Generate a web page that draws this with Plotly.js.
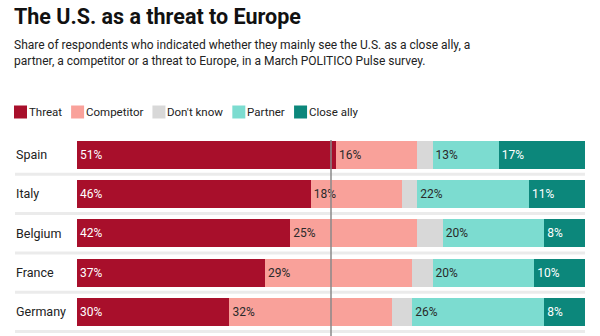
<!DOCTYPE html>
<html>
<head>
<meta charset="utf-8">
<script src="https://cdn.plot.ly/plotly-3.0.1.min.js"></script>
<style>html,body{margin:0;padding:0;background:#fff;}#chart{width:600px;height:336px;}</style>
</head>
<body>
<div id="chart"></div>
<script>
const countries = ["Spain", "Italy", "Belgium", "France", "Germany"];
const seriesNames = ["Threat", "Competitor", "Don't know", "Partner", "Close ally"];
const threat = [51, 46, 42, 37, 30];
const competitor = [16, 18, 25, 29, 32];
const dontKnow = [3, 3, 5, 4, 4];
const partner = [13, 22, 20, 20, 26];
const closeAlly = [17, 11, 8, 10, 8];
const colors = ["#a80f2b", "#f9a19a", "#d8d8d8", "#7cdcd0", "#0c877b"];
const labelColors = ["#ffffff", "#2a2a2a", "#2a2a2a", "#2a2a2a", "#ffffff"];
const showLabels = [true, true, false, true, true];

const FONT = "Roboto, 'DejaVu Sans', sans-serif";
const values = [threat, competitor, dontKnow, partner, closeAlly];

const traces = values.map((vals, i) => ({
  type: "bar",
  orientation: "h",
  name: seriesNames[i],
  y: countries,
  x: vals,
  marker: {color: colors[i], line: {width: 0}},
  text: showLabels[i] ? vals.map(v => v + "%") : vals.map(() => ""),
  textposition: "inside",
  insidetextanchor: "start",
  textangle: 0,
  textfont: {color: labelColors[i], size: 12, family: FONT},
  hoverinfo: "skip",
  showlegend: false
}));

const W = 600, H = 336;
const margin = {l: 77, r: 15, t: 135, b: 3};
const plotW = W - margin.l - margin.r;
const plotH = H - margin.t - margin.b;
const px2paperX = px => (px - margin.l) / plotW;
const px2paperY = py => 1 - (py - margin.t) / plotH;

const shapes = [];
const annotations = [];

// row separators and country labels
countries.forEach((c, i) => {
  shapes.push({type: "line", xref: "paper", yref: "y", x0: px2paperX(15), x1: 1, y0: i + 0.5, y1: i + 0.5,
    line: {color: "#ebebeb", width: 3}, layer: "below"});
  annotations.push({xref: "paper", yref: "y", x: px2paperX(14), y: c, xanchor: "left", yanchor: "middle",
    text: c, showarrow: false, font: {family: FONT, size: 12.5, color: "#222"}});
});

// 50% reference line
shapes.push({type: "line", xref: "x", yref: "paper", x0: 50, x1: 50, y0: -0.02, y1: px2paperY(140),
  line: {color: "#8a8a8a", width: 1.5}, layer: "above"});

// title & subtitle
annotations.push({xref: "paper", yref: "paper", x: px2paperX(12), y: px2paperY(2), xanchor: "left", yanchor: "top",
  text: "<b>The U.S. as a threat to Europe</b>", showarrow: false, font: {family: FONT, size: 21.5, color: "#111"}});
annotations.push({xref: "paper", yref: "paper", x: px2paperX(12), y: px2paperY(36), xanchor: "left", yanchor: "top", align: "left",
  text: "Share of respondents who indicated whether they mainly see the U.S. as a close ally, a<br>partner, a competitor or a threat to Europe, in a March POLITICO Pulse survey.",
  showarrow: false, font: {family: FONT, size: 12, color: "#222"}});

// legend
const ctx = document.createElement("canvas").getContext("2d");
const legendFontSize = 11.5;
ctx.font = legendFontSize + "px Roboto";
let lx = 14;
const ly = 112;
seriesNames.forEach((n, i) => {
  shapes.push({type: "rect", xref: "paper", yref: "paper", x0: px2paperX(lx), x1: px2paperX(lx + 13),
    y0: px2paperY(ly - 6.5), y1: px2paperY(ly + 6.5), fillcolor: colors[i], line: {width: 0}});
  annotations.push({xref: "paper", yref: "paper", x: px2paperX(lx + 13), y: px2paperY(ly), xanchor: "left", yanchor: "middle",
    text: n, showarrow: false, font: {family: FONT, size: legendFontSize, color: "#222"}});
  const tw = ctx.measureText(n).width;
  lx += 15 + tw + 9;
});

const layout = {
  width: W, height: H,
  margin: margin,
  paper_bgcolor: "#fff", plot_bgcolor: "#fff",
  barmode: "stack",
  bargap: 0.29,
  showlegend: false,
  xaxis: {range: [0, 100], showgrid: false, zeroline: false, showticklabels: false, fixedrange: true},
  yaxis: {autorange: "reversed", showgrid: false, zeroline: false, showticklabels: false, fixedrange: true, type: "category"},
  shapes: shapes,
  annotations: annotations,
  font: {family: FONT},
  uniformtext: {mode: false}
};

Plotly.newPlot("chart", traces, layout, {displayModeBar: false, staticPlot: true});
</script>
</body>
</html>
